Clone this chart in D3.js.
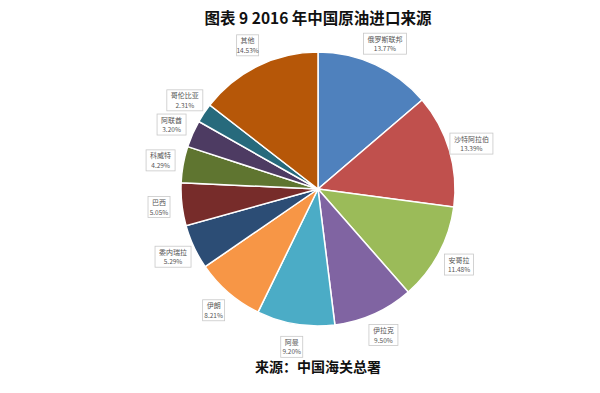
<!DOCTYPE html>
<html><head><meta charset="utf-8">
<script src="https://cdn.jsdelivr.net/npm/d3@7"></script>
<style>body{margin:0;background:#fff}svg{display:block}</style>
</head><body>
<svg id="c" width="600" height="393"></svg>
<script>
const categories = ["俄罗斯联邦","沙特阿拉伯","安哥拉","伊拉克","阿曼","伊朗","委内瑞拉","巴西","科威特","阿联酋","哥伦比亚","其他"];
const values = [13.77,13.39,11.48,9.50,9.20,8.21,5.29,5.05,4.29,3.20,2.31,14.53];
const colors = ["#4F81BD","#C0504D","#9BBB59","#8064A2","#4BACC6","#F79646","#2C4D75","#772C2A","#5F7530","#4D3B62","#276A7C","#B65708"];
const title = "图表 9 2016 年中国原油进口来源";
const source = "来源：中国海关总署";

const svg = d3.select("#c");
const cx = 318, cy = 189, R = 137;
const font = "'Noto Sans CJK SC', sans-serif";

svg.append("text").attr("x", 318).attr("y", 24).attr("text-anchor","middle")
  .attr("font-family", font).attr("font-weight","bold").attr("font-size",15.5).attr("fill","#111").text(title);
svg.append("text").attr("x", 318).attr("y", 372).attr("text-anchor","middle")
  .attr("font-family", font).attr("font-weight","bold").attr("font-size",14).attr("fill","#111").text(source);

const pie = d3.pie().sort(null).value(d => d)(values);
const arc = d3.arc().innerRadius(0).outerRadius(R);
const g = svg.append("g").attr("transform", `translate(${cx},${cy})`);
g.selectAll("path").data(pie).join("path")
  .attr("d", arc).attr("fill", (d,i) => colors[i])
  .attr("stroke", "#fff").attr("stroke-width", 1.5);

const lr = 160;
const lab = g.selectAll("g.lab").data(pie).join("g").attr("class","lab")
  .attr("transform", d => {
    const a = (d.startAngle + d.endAngle)/2;
    return `translate(${lr*Math.sin(a)},${-lr*Math.cos(a)})`;
  });
lab.each(function(d,i){
  const s = d3.select(this);
  const name = categories[i];
  const w = name.length * 7 + 8;
  s.append("rect").attr("x", -w/2).attr("y", -10.5).attr("width", w).attr("height", 21)
    .attr("fill","#fff").attr("stroke","#c8c8c8").attr("stroke-width",0.8);
  s.append("text").attr("y", -2).attr("text-anchor","middle").attr("font-family",font)
    .attr("font-size",7).attr("fill","#555").text(name);
  s.append("text").attr("y", 7.5).attr("text-anchor","middle").attr("font-family",font)
    .attr("font-size",6.5).attr("fill","#555").text(d3.format(".2f")(values[i]) + "%");
});
</script>
</body></html>
